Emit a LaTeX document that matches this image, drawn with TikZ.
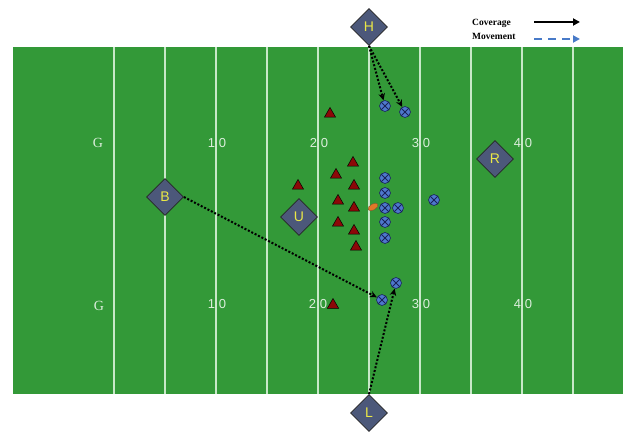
\documentclass[tikz,border=0pt]{standalone}
\usepackage{fontspec}
\setmainfont{Liberation Serif}
\newfontfamily\sansf{Liberation Sans}
\usetikzlibrary{shapes.geometric,arrows.meta}
\definecolor{fieldgreen}{RGB}{51,153,56}
\definecolor{yardcol}{RGB}{200,232,200}
\definecolor{numcol}{RGB}{220,238,220}
\definecolor{diamfill}{RGB}{76,88,122}
\definecolor{lettercol}{RGB}{235,232,70}
\definecolor{bluep}{RGB}{78,120,205}
\definecolor{navyx}{RGB}{25,35,90}
\definecolor{redp}{RGB}{140,8,8}
\definecolor{ballcol}{RGB}{225,120,40}
\definecolor{movecol}{RGB}{72,122,200}
\tikzset{
  yardline/.style={draw=yardcol, line width=1.3pt},
  fieldnum/.style={text=numcol, font=\sansf\fontsize{13}{13}\selectfont, inner sep=0pt},
  goalnum/.style={text=numcol, font=\fontsize{14}{14}\selectfont, inner sep=0pt},
  defender/.style={shape=diamond, aspect=1, minimum width=37pt, minimum height=37pt, inner sep=0pt,
     fill=diamfill, draw=black!85, line width=0.8pt, text=lettercol, font=\sansf\fontsize{14}{14}\selectfont},
  receiver/.style={circle, minimum size=11pt, inner sep=0pt, fill=bluep, draw=navyx, line width=0.6pt,
     path picture={\draw[navyx, line width=0.8pt] (path picture bounding box.north west) -- (path picture bounding box.south east)
        (path picture bounding box.north east) -- (path picture bounding box.south west);}},
  lineman/.style={regular polygon, regular polygon sides=3, minimum size=13pt, inner sep=0pt,
     fill=redp, draw=black, line width=0.5pt},
  dotarrow/.style={draw=black, line width=2pt, dash pattern=on 2pt off 1.8pt,
     -{Stealth[length=7pt,width=6.5pt]}},
  legendtext/.style={font=\bfseries\fontsize{9.5}{9.5}\selectfont, inner sep=0pt, anchor=west}
}
\begin{document}
\begin{tikzpicture}[x=1pt,y=-1pt]
\useasboundingbox[fill=white] (0,0) rectangle (631,435);
\fill[fieldgreen] (13,47) rectangle (623,394);
\foreach \x in {114,165,216,267,318,369,420,471,522,573}
  \draw[yardline] (\x,47) -- (\x,394);

% field numbers
\node[goalnum] (g1) at (98,143) {G};
\node[fieldnum] (n10a) at (217,143) {1\hspace{4pt}0};
\node[fieldnum] (n20a) at (319,143) {2\hspace{4pt}0};
\node[fieldnum] (n30a) at (421,143) {3\hspace{4pt}0};
\node[fieldnum] (n40a) at (523,143) {4\hspace{4pt}0};
\node[goalnum] (g2) at (99,306) {G};
\node[fieldnum] (n10b) at (217,304) {1\hspace{4pt}0};
\node[fieldnum] (n20b) at (318,304) {2\hspace{4pt}0};
\node[fieldnum] (n30b) at (421,304) {3\hspace{4pt}0};
\node[fieldnum] (n40b) at (523,304) {4\hspace{4pt}0};

% linemen (red)
\node[lineman] (t1) at (330,114) {};
\node[lineman] (t2) at (353,163) {};
\node[lineman] (t3) at (336,175) {};
\node[lineman] (t4) at (298,186) {};
\node[lineman] (t5) at (354,186) {};
\node[lineman] (t6) at (338,201) {};
\node[lineman] (t7) at (354,208) {};
\node[lineman] (t8) at (338,223) {};
\node[lineman] (t9) at (354,231) {};
\node[lineman] (t10) at (356,247) {};
\node[lineman] (t11) at (333,305) {};

% football
\node[ellipse, minimum width=11pt, minimum height=6pt, inner sep=0pt, rotate=30,
      fill=ballcol, draw=brown!70!black, line width=0.4pt] (ball) at (373,207) {};

% receivers (blue)
\node[receiver] (p1) at (385,106) {};
\node[receiver] (p2) at (405,112) {};
\node[receiver] (p3) at (385,178) {};
\node[receiver] (p4) at (385,193) {};
\node[receiver] (p5) at (385,208) {};
\node[receiver] (p6) at (398,208) {};
\node[receiver] (p7) at (385,222) {};
\node[receiver] (p8) at (385,238) {};
\node[receiver] (p9) at (434,200) {};
\node[receiver] (p10) at (396,283) {};
\node[receiver] (p11) at (382,300) {};

% defenders
\node[defender] (H) at (369,27) {H};
\node[defender] (B) at (165,197) {B};
\node[defender] (U) at (299,217) {U};
\node[defender] (R) at (495,159) {R};
\node[defender] (L) at (369,413) {L};

% coverage arrows
\draw[dotarrow] (H.south) -- (p1);
\draw[dotarrow] (H.south) -- (p2);
\draw[dotarrow] (B.east) -- (p11);
\draw[dotarrow] (L.north) -- (p10);

% legend
\node[legendtext] (cov) at (472,23) {Coverage};
\node[legendtext] (mov) at (472,36) {Movement};
\coordinate (c1) at (534,22);
\coordinate (c2) at (580,22);
\coordinate (m1) at (534,39);
\coordinate (m2) at (580,39);
\draw[line width=1.8pt, -{Triangle[length=7pt,width=7pt]}] (c1) -- (c2);
\draw[movecol, line width=2.2pt, dash pattern=on 8pt off 6pt, -{Triangle[length=7pt,width=7pt]}] (m1) -- (m2);
\end{tikzpicture}
\end{document}
